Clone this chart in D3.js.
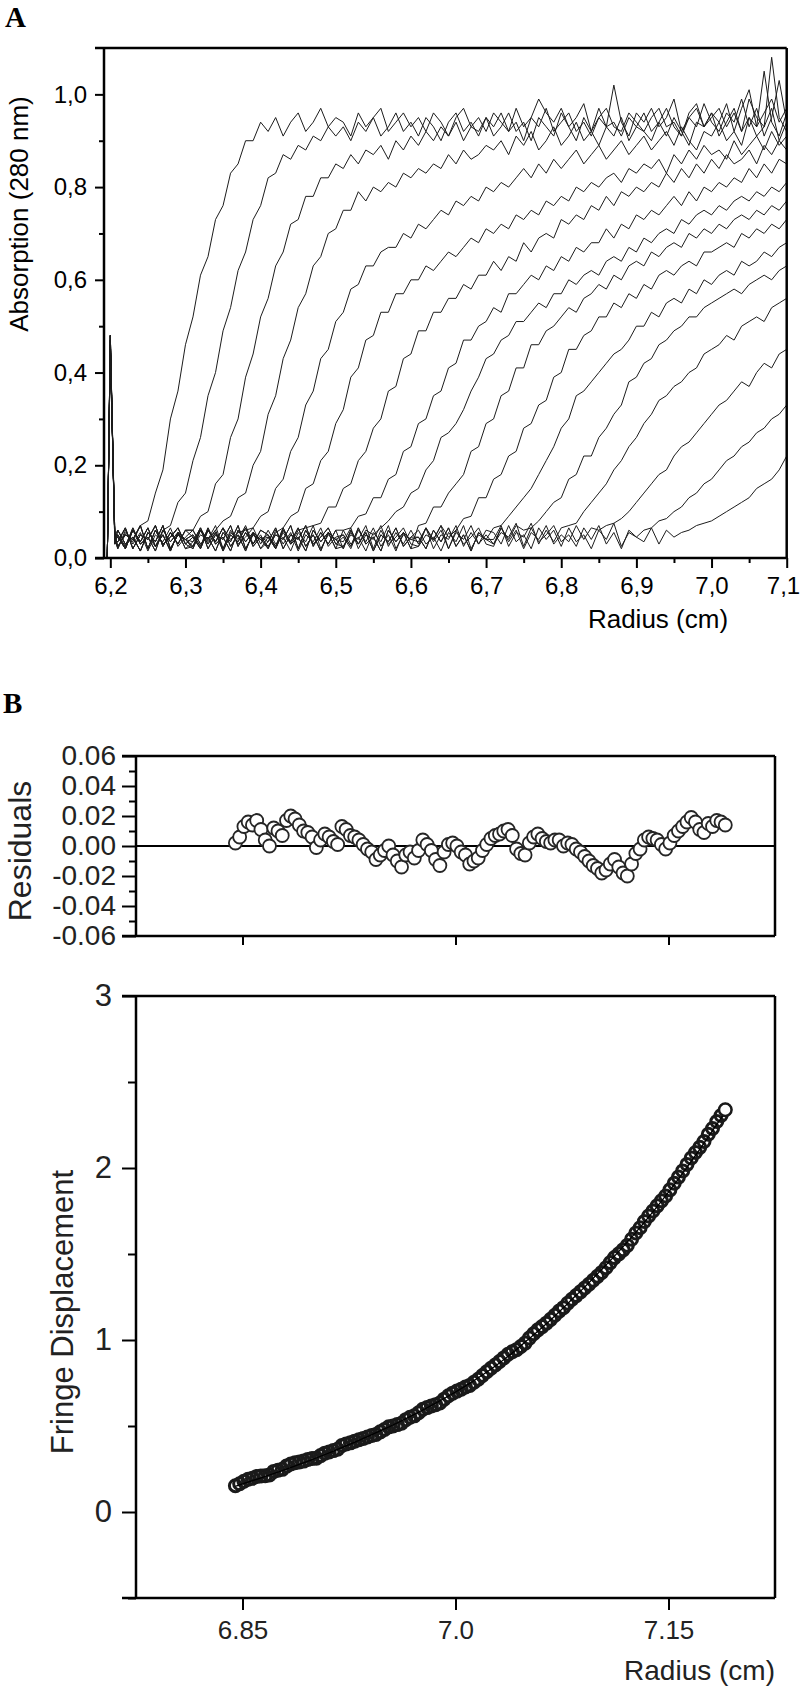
<!DOCTYPE html>
<html>
<head>
<meta charset="utf-8">
<script src="https://cdn.jsdelivr.net/npm/d3@7"></script>
<style>
body { margin: 0; background: #fff; }
svg { display: block; }
</style>
</head>
<body>
<svg id="chart" width="800" height="1691"></svg>
<script>
// ---- panel A: absorbance scans ----
const radiusA = [6.196, 6.2, 6.206,
	6.21, 6.22, 6.23, 6.24, 6.25, 6.26, 6.27, 6.28, 6.29, 6.3,
	6.31, 6.32, 6.33, 6.34, 6.35, 6.36, 6.37, 6.38, 6.39, 6.4,
	6.41, 6.42, 6.43, 6.44, 6.45, 6.46, 6.47, 6.48, 6.49, 6.5,
	6.51, 6.52, 6.53, 6.54, 6.55, 6.56, 6.57, 6.58, 6.59, 6.6,
	6.61, 6.62, 6.63, 6.64, 6.65, 6.66, 6.67, 6.68, 6.69, 6.7,
	6.71, 6.72, 6.73, 6.74, 6.75, 6.76, 6.77, 6.78, 6.79, 6.8,
	6.81, 6.82, 6.83, 6.84, 6.85, 6.86, 6.87, 6.88, 6.89, 6.9,
	6.91, 6.92, 6.93, 6.94, 6.95, 6.96, 6.97, 6.98, 6.99, 7.0,
	7.01, 7.02, 7.03, 7.04, 7.05, 7.06, 7.07, 7.08, 7.09, 7.1]

const scan01 = [0, .48, .04,
	.02, .055, .035, .07, .08, .14, .19, .30, .36, .46,
	.52, .61, .65, .73, .76, .83, .85, .90, .90, .94,
	.92, .95, .91, .94, .96, .92, .94, .97, .93, .95,
	.94, .91, .96, .93, .95, .97, .92, .94, .96, .93,
	.95, .92, .96, .94, .91, .95, .97, .93, .95, .92,
	.96, .94, .92, .97, .93, .95, .99, .96, .94, .97,
	.93, .95, .98, .92, .95, .93, 1.02, .94, .91, .96,
	.94, .97, .93, .95, .99, .92, .95, .97, .93, .96,
	.94, .98, .92, .97, 1.01, .93, .96, .99, .94, .97]
const scan02 = [0, .47, .05,
	.05, .02, .06, .03, .045, .025, .06, .07, .12, .14,
	.21, .26, .35, .40, .49, .54, .62, .66, .73, .76,
	.82, .83, .87, .86, .89, .88, .91, .90, .93, .91,
	.93, .90, .94, .92, .95, .91, .93, .96, .92, .94,
	.91, .95, .93, .90, .94, .96, .92, .94, .91, .95,
	.93, .96, .92, .94, .90, .95, .93, .97, .92, .94,
	.96, .92, .94, .91, .95, .97, .93, .92, .96, .94,
	.92, .95, .97, .93, .94, .91, .96, .98, .93, .95,
	.97, .93, .96, .92, .99, .95, .93, 1.08, .95, .92]
const scan03 = [0, .46, .04,
	.035, .065, .02, .05, .04, .07, .025, .055, .03, .06,
	.06, .09, .10, .16, .18, .26, .30, .39, .44, .52,
	.56, .63, .66, .72, .73, .78, .78, .82, .82, .85,
	.84, .87, .85, .88, .87, .89, .86, .90, .88, .91,
	.89, .92, .90, .93, .91, .94, .90, .93, .92, .95,
	.91, .93, .96, .92, .94, .90, .95, .93, .91, .96,
	.93, .90, .95, .92, .97, .93, .94, .91, .95, .93,
	.96, .92, .94, .97, .93, .91, .95, .93, .98, .94,
	.92, .96, .94, .99, .93, .97, .91, .95, 1.03, .94]
const scan04 = [0, .48, .03,
	.06, .03, .045, .015, .055, .035, .07, .02, .05, .04,
	.025, .06, .04, .06, .08, .09, .13, .14, .20, .23,
	.31, .35, .43, .47, .54, .57, .63, .65, .70, .71,
	.75, .75, .79, .77, .80, .79, .81, .80, .83, .82,
	.84, .83, .85, .84, .87, .85, .88, .86, .87, .89,
	.88, .90, .87, .91, .89, .92, .88, .90, .93, .89,
	.91, .94, .90, .92, .89, .93, .91, .95, .90, .93,
	.92, .90, .94, .91, .95, .92, .89, .94, .93, .96,
	.91, .94, .97, .92, .95, .93, 1.05, .94, .91, .96]
const scan05 = [0, .47, .04,
	.025, .05, .04, .07, .02, .06, .03, .045, .065, .03,
	.045, .02, .06, .035, .065, .04, .055, .06, .065, .09,
	.10, .15, .17, .23, .26, .33, .36, .43, .45, .51,
	.53, .58, .59, .63, .63, .66, .67, .67, .70, .69,
	.72, .71, .73, .75, .74, .77, .76, .78, .77, .80,
	.79, .81, .80, .82, .84, .82, .85, .83, .86, .84,
	.86, .88, .85, .87, .89, .86, .88, .90, .87, .89,
	.91, .88, .90, .92, .89, .93, .90, .88, .92, .91,
	.94, .90, .92, .89, .95, .91, .93, .97, .90, .94]
const scan06 = [0, .46, .05,
	.045, .02, .06, .035, .065, .025, .05, .015, .055, .04,
	.025, .065, .035, .06, .02, .055, .04, .07, .03, .05,
	.02, .055, .065, .09, .10, .15, .16, .21, .23, .29,
	.32, .39, .41, .47, .48, .53, .53, .57, .57, .60,
	.60, .63, .62, .64, .66, .65, .67, .69, .68, .71,
	.70, .72, .71, .74, .73, .75, .74, .77, .76, .78,
	.77, .80, .79, .81, .80, .82, .83, .81, .84, .83,
	.85, .84, .86, .83, .87, .85, .88, .86, .89, .87,
	.88, .86, .90, .87, .89, .91, .88, .92, .89, .91]
const scan07 = [0, .47, .04,
	.05, .025, .065, .03, .045, .015, .06, .035, .055, .02,
	.035, .065, .02, .05, .04, .07, .025, .055, .03, .06,
	.05, .02, .055, .03, .06, .065, .07, .075, .11, .11,
	.15, .16, .21, .23, .28, .30, .36, .37, .43, .44,
	.49, .49, .53, .53, .56, .56, .59, .58, .61, .61,
	.64, .62, .65, .64, .68, .66, .69, .70, .69, .73,
	.72, .74, .73, .76, .75, .78, .76, .79, .78, .80,
	.79, .81, .80, .83, .81, .84, .82, .85, .83, .86,
	.84, .87, .85, .86, .88, .85, .89, .87, .90, .88]
const scan08 = [0, .48, .05,
	.025, .05, .04, .07, .02, .06, .03, .045, .065, .03,
	.045, .02, .06, .035, .065, .025, .05, .015, .055, .04,
	.05, .025, .065, .03, .045, .015, .06, .035, .055, .02,
	.06, .065, .09, .095, .13, .13, .17, .18, .23, .24,
	.29, .30, .35, .36, .41, .42, .47, .47, .50, .51,
	.54, .53, .57, .57, .59, .61, .60, .63, .62, .65,
	.64, .67, .66, .68, .68, .71, .69, .72, .71, .74,
	.73, .75, .74, .76, .78, .76, .79, .77, .80, .79,
	.81, .80, .82, .81, .84, .82, .85, .83, .86, .85]
const scan09 = [0, .46, .04,
	.02, .06, .03, .055, .015, .05, .035, .065, .025, .045,
	.06, .03, .045, .015, .055, .035, .07, .02, .05, .04,
	.025, .05, .04, .07, .02, .06, .03, .045, .065, .03,
	.025, .055, .03, .06, .05, .065, .08, .10, .11, .14,
	.15, .19, .21, .26, .27, .29, .32, .36, .39, .43,
	.44, .47, .48, .51, .51, .53, .55, .54, .57, .57,
	.60, .59, .61, .62, .61, .64, .65, .64, .67, .66,
	.69, .68, .70, .71, .70, .73, .72, .74, .75, .74,
	.76, .75, .77, .78, .77, .79, .78, .80, .79, .81]
const scan10 = [0, .47, .03,
	.035, .065, .02, .05, .04, .07, .025, .055, .03, .06,
	.045, .02, .06, .035, .065, .025, .05, .015, .055, .04,
	.02, .06, .03, .055, .015, .05, .035, .065, .025, .045,
	.05, .025, .065, .03, .045, .015, .06, .035, .055, .02,
	.07, .075, .11, .11, .14, .16, .18, .23, .24, .29,
	.30, .35, .36, .41, .41, .46, .46, .49, .50, .52,
	.54, .53, .56, .57, .59, .58, .61, .60, .63, .64,
	.63, .66, .65, .67, .68, .67, .70, .69, .71, .70,
	.72, .71, .73, .74, .73, .75, .74, .76, .75, .77]
const scan11 = [0, .48, .04,
	.06, .03, .045, .015, .055, .035, .07, .02, .05, .04,
	.05, .025, .065, .03, .045, .015, .06, .035, .055, .02,
	.045, .02, .06, .035, .065, .025, .05, .015, .055, .04,
	.035, .065, .02, .05, .04, .07, .025, .055, .03, .06,
	.03, .065, .04, .07, .045, .06, .085, .09, .13, .13,
	.17, .18, .22, .23, .28, .29, .33, .34, .39, .40,
	.45, .45, .48, .49, .52, .52, .55, .54, .57, .56,
	.59, .58, .61, .62, .61, .63, .64, .63, .66, .66,
	.67, .68, .67, .70, .69, .71, .70, .72, .71, .73]
const scan12 = [0, .46, .05,
	.025, .05, .04, .07, .02, .06, .03, .045, .065, .03,
	.02, .06, .03, .055, .015, .05, .035, .065, .025, .045,
	.035, .065, .02, .05, .04, .07, .025, .055, .03, .06,
	.06, .03, .045, .015, .055, .035, .07, .02, .05, .04,
	.045, .02, .06, .035, .065, .025, .05, .015, .055, .04,
	.065, .07, .09, .11, .13, .15, .18, .21, .24, .28,
	.30, .35, .36, .38, .40, .42, .44, .45, .47, .50,
	.50, .53, .52, .55, .56, .55, .58, .57, .60, .59,
	.61, .62, .61, .64, .63, .64, .66, .65, .67, .68]
const scan13 = [0, .47, .04,
	.045, .02, .06, .035, .065, .025, .05, .015, .055, .04,
	.035, .065, .02, .05, .04, .07, .025, .055, .03, .06,
	.05, .025, .065, .03, .045, .015, .06, .035, .055, .02,
	.025, .05, .04, .07, .02, .06, .03, .045, .065, .03,
	.025, .065, .035, .06, .02, .055, .04, .07, .03, .05,
	.03, .065, .04, .07, .06, .065, .08, .10, .12, .13,
	.17, .18, .22, .22, .26, .28, .31, .33, .38, .39,
	.42, .43, .46, .47, .49, .50, .52, .52, .54, .55,
	.56, .57, .58, .57, .59, .60, .61, .60, .62, .63]
const scan14 = [0, .48, .03,
	.05, .025, .065, .03, .045, .015, .06, .035, .055, .02,
	.025, .05, .04, .07, .02, .06, .03, .045, .065, .03,
	.06, .03, .045, .015, .055, .035, .07, .02, .05, .04,
	.02, .06, .03, .055, .015, .05, .035, .065, .025, .045,
	.045, .02, .06, .035, .065, .025, .05, .015, .055, .04,
	.04, .07, .025, .055, .045, .075, .03, .06, .035, .065,
	.07, .075, .10, .12, .14, .16, .19, .21, .24, .26,
	.29, .31, .34, .35, .37, .38, .40, .41, .44, .45,
	.46, .48, .47, .50, .51, .52, .51, .54, .55, .56]
const scan15 = [0, .47, .04,
	.035, .065, .02, .05, .04, .07, .025, .055, .03, .06,
	.06, .03, .045, .015, .055, .035, .07, .02, .05, .04,
	.045, .02, .06, .035, .065, .025, .05, .015, .055, .04,
	.05, .025, .065, .03, .045, .015, .06, .035, .055, .02,
	.025, .05, .04, .07, .02, .06, .03, .045, .065, .03,
	.025, .065, .035, .06, .02, .055, .04, .07, .03, .05,
	.035, .07, .04, .065, .06, .07, .075, .085, .10, .12,
	.14, .16, .18, .19, .22, .24, .25, .27, .29, .31,
	.33, .34, .36, .38, .37, .40, .42, .41, .44, .45]
const scan16 = [0, .46, .05,
	.06, .03, .045, .015, .055, .035, .07, .02, .05, .04,
	.02, .06, .03, .055, .015, .05, .035, .065, .025, .045,
	.025, .05, .04, .07, .02, .06, .03, .045, .065, .03,
	.045, .02, .06, .035, .065, .025, .05, .015, .055, .04,
	.035, .065, .02, .05, .04, .07, .025, .055, .03, .06,
	.055, .03, .07, .035, .05, .02, .065, .04, .06, .025,
	.065, .035, .05, .02, .06, .04, .075, .025, .055, .045,
	.06, .065, .08, .085, .10, .11, .13, .14, .16, .17,
	.19, .21, .22, .24, .25, .27, .28, .30, .31, .33]
const scan17 = [0, .48, .04,
	.045, .02, .06, .035, .065, .025, .05, .015, .055, .04,
	.05, .025, .065, .03, .045, .015, .06, .035, .055, .02,
	.035, .065, .02, .05, .04, .07, .025, .055, .03, .06,
	.02, .06, .03, .055, .015, .05, .035, .065, .025, .045,
	.06, .03, .045, .015, .055, .035, .07, .02, .05, .04,
	.03, .055, .045, .075, .025, .065, .035, .05, .07, .035,
	.05, .025, .065, .04, .07, .03, .055, .02, .06, .045,
	.035, .065, .03, .06, .045, .055, .06, .07, .075, .08,
	.09, .10, .11, .12, .13, .15, .16, .17, .19, .22]
const scansA = [scan01, scan02, scan03, scan04, scan05, scan06, scan07, scan08, scan09,
	scan10, scan11, scan12, scan13, scan14, scan15, scan16, scan17]

const radiusTicksA = [6.2, 6.3, 6.4, 6.5, 6.6, 6.7, 6.8, 6.9, 7.0, 7.1]
const radiusMinorA = [6.25, 6.35, 6.45, 6.55, 6.65, 6.75, 6.85, 6.95, 7.05]
const absTicks = [0, 0.2, 0.4, 0.6, 0.8, 1.0]
const absMinor = [0.1, 0.3, 0.5, 0.7, 0.9]

// ---- panel B: interference data, fit and residuals ----
const fringeRadius = [
	6.845, 6.848, 6.851, 6.854, 6.857, 6.86, 6.863, 6.866, 6.869, 6.872,
	6.875, 6.878, 6.881, 6.884, 6.887, 6.89, 6.893, 6.896, 6.899, 6.902,
	6.905, 6.908, 6.911, 6.914, 6.917, 6.92, 6.923, 6.926, 6.929, 6.932,
	6.935, 6.938, 6.941, 6.944, 6.947, 6.95, 6.953, 6.956, 6.959, 6.962,
	6.965, 6.968, 6.971, 6.974, 6.977, 6.98, 6.983, 6.986, 6.989, 6.992,
	6.995, 6.998, 7.001, 7.004, 7.007, 7.01, 7.013, 7.016, 7.019, 7.022,
	7.025, 7.028, 7.031, 7.034, 7.037, 7.04, 7.043, 7.046, 7.049, 7.052,
	7.055, 7.058, 7.061, 7.064, 7.067, 7.07, 7.073, 7.076, 7.079, 7.082,
	7.085, 7.088, 7.091, 7.094, 7.097, 7.1, 7.103, 7.106, 7.109, 7.112,
	7.115, 7.118, 7.121, 7.124, 7.127, 7.13, 7.133, 7.136, 7.139, 7.142,
	7.145, 7.148, 7.151, 7.154, 7.157, 7.16, 7.163, 7.166, 7.169, 7.172,
	7.175, 7.178, 7.181, 7.184, 7.187, 7.19]
const fringeValues = [
	.153, .164, .179, .190, .196, .207, .209, .211, .215, .236,
	.243, .248, .267, .279, .286, .291, .296, .305, .311, .313,
	.328, .342, .349, .357, .365, .387, .396, .402, .412, .420,
	.428, .436, .445, .451, .466, .480, .495, .500, .508, .516,
	.537, .551, .559, .577, .597, .607, .617, .624, .634, .656,
	.676, .691, .703, .714, .727, .736, .754, .772, .794, .815,
	.836, .855, .875, .896, .917, .932, .944, .962, .982, 1.011,
	1.036, 1.059, 1.078, 1.098, 1.120, 1.144, 1.168, 1.188, 1.214, 1.237,
	1.258, 1.280, 1.302, 1.324, 1.347, 1.370, 1.393, 1.420, 1.450, 1.479,
	1.501, 1.524, 1.550, 1.586, 1.622, 1.653, 1.689, 1.721, 1.750, 1.780,
	1.809, 1.837, 1.873, 1.911, 1.947, 1.983, 2.021, 2.058, 2.090, 2.120,
	2.154, 2.196, 2.230, 2.270, 2.305, 2.339]
const residualValues = [
	.002, .006, .013, .016, .014, .017, .011, .004, .000, .012,
	.010, .007, .017, .020, .018, .014, .010, .009, .006, -.001,
	.004, .008, .006, .003, .001, .013, .011, .007, .006, .004,
	.001, -.002, -.004, -.009, -.006, -.003, .000, -.006, -.010, -.014,
	-.006, -.004, -.008, -.003, .004, .001, -.003, -.009, -.013, -.004,
	.001, .002, .000, -.004, -.006, -.012, -.010, -.008, -.003, .001,
	.005, .007, .008, .010, .011, .007, -.002, -.005, -.006, .002,
	.006, .008, .005, .003, .002, .004, .004, .000, .002, .001,
	-.002, -.004, -.007, -.010, -.013, -.015, -.018, -.016, -.012, -.009,
	-.014, -.018, -.020, -.012, -.005, -.002, .004, .006, .005, .004,
	.001, -.002, .002, .007, .010, .013, .016, .019, .016, .011,
	.009, .015, .013, .017, .016, .014]
const fitRadius = [6.845, 6.85, 6.86, 6.87, 6.88, 6.89, 6.9, 6.91, 6.92, 6.93, 6.94, 6.95,
	6.96, 6.97, 6.98, 6.99, 7.0, 7.01, 7.02, 7.03, 7.04, 7.05, 7.06, 7.07, 7.08,
	7.09, 7.1, 7.11, 7.12, 7.13, 7.14, 7.15, 7.16, 7.17, 7.18, 7.19]
const fitValues = [.150, .163, .19, .218, .247, .277, .308, .34, .374, .409, .445, .483,
	.522, .563, .606, .651, .698, .748, .802, .86, .925, .995, 1.065, 1.14, 1.22,
	1.30, 1.385, 1.47, 1.56, 1.655, 1.755, 1.86, 1.97, 2.085, 2.205, 2.325]

const radiusTicksB = [6.85, 7.0, 7.15]
const radiusLabelsB = ["6.85", "7.0", "7.15"]
const residTicks = [-0.06, -0.04, -0.02, 0, 0.02, 0.04, 0.06]
const residMinor = [-0.05, -0.03, -0.01, 0.01, 0.03, 0.05]
const fringeTicks = [0, 1, 2, 3]
const fringeMinor = [-0.5, 0.5, 1.5, 2.5]

const svg = d3.select("#chart")
const sans = "'Liberation Sans', Arial, Helvetica, sans-serif"
const serif = "'Liberation Serif', 'Times New Roman', serif"

function styleAxis(g, size, color) {
	g.select(".domain").remove()
	g.attr("font-family", sans).attr("font-size", size)
	g.selectAll("line").attr("stroke", "#000").attr("stroke-width", 2)
	g.selectAll("text").attr("fill", color)
}

function frame(x0, x1, y0, y1, ext, width) {
	const f = svg.append("g").attr("stroke", "#000").attr("stroke-width", width)
	f.append("line").attr("x1", x0 - ext).attr("x2", x1).attr("y1", y0).attr("y2", y0)
	f.append("line").attr("x1", x0 - ext).attr("x2", x1).attr("y1", y1).attr("y2", y1)
	f.append("line").attr("x1", x0).attr("x2", x0).attr("y1", y0).attr("y2", y1)
	f.append("line").attr("x1", x1).attr("x2", x1).attr("y1", y0).attr("y2", y1)
}

// ---------- A ----------
const xA = d3.scaleLinear().domain([6.1916, 7.1]).range([104, 786.7])
const yA = d3.scaleLinear().domain([0, 1.1]).range([558, 48])
const commaFmt = d => d3.format(".1f")(d).replace(".", ",")

const lineA = d3.line().x((d, i) => xA(radiusA[i])).y(d => yA(d))
svg.append("g")
	.selectAll("path")
	.data(scansA)
	.join("path")
	.attr("d", lineA)
	.attr("fill", "none")
	.attr("stroke", "#1c1c1c")
	.attr("stroke-width", 1)
	.attr("stroke-linejoin", "round")

svg.append("g").attr("transform", "translate(0,558)")
	.call(d3.axisBottom(xA).tickValues(radiusTicksA).tickSize(10).tickPadding(9).tickFormat(commaFmt))
	.call(g => styleAxis(g, 24, "#000"))
	.call(g => g.select(".tick:last-of-type text").attr("text-anchor", "end").attr("x", 13))
svg.append("g").attr("transform", "translate(0,558)")
	.call(d3.axisBottom(xA).tickValues(radiusMinorA).tickSize(5).tickFormat(""))
	.call(g => styleAxis(g, 24, "#000"))
svg.append("g").attr("transform", "translate(104,0)")
	.call(d3.axisLeft(yA).tickValues(absTicks).tickSize(9).tickPadding(8).tickFormat(commaFmt))
	.call(g => styleAxis(g, 24, "#000"))
svg.append("g").attr("transform", "translate(104,0)")
	.call(d3.axisLeft(yA).tickValues(absMinor).tickSize(5).tickFormat(""))
	.call(g => styleAxis(g, 24, "#000"))
frame(104, 786.7, 48, 558, 9, 2.5)

svg.append("text").attr("x", 658).attr("y", 628).attr("text-anchor", "middle")
	.attr("font-family", sans).attr("font-size", 26).text("Radius (cm)")
svg.append("text").attr("transform", "translate(28,214) rotate(-90)").attr("text-anchor", "middle")
	.attr("font-family", sans).attr("font-size", 26).text("Absorption (280 nm)")
svg.append("text").attr("x", 5).attr("y", 27).attr("font-family", serif)
	.attr("font-weight", "bold").attr("font-size", 29).text("A")

// ---------- B: residuals ----------
const xB = d3.scaleLinear().domain([6.775, 7.225]).range([136, 775])
const yR = d3.scaleLinear().domain([-0.06, 0.06]).range([936, 756])

svg.append("line").attr("x1", 136).attr("x2", 775).attr("y1", yR(0)).attr("y2", yR(0))
	.attr("stroke", "#000").attr("stroke-width", 2)
svg.append("g")
	.selectAll("circle")
	.data(residualValues)
	.join("circle")
	.attr("cx", (d, i) => xB(fringeRadius[i]))
	.attr("cy", d => yR(d))
	.attr("r", 6.5)
	.attr("fill", "#fff")
	.attr("stroke", "#262626")
	.attr("stroke-width", 1.8)

svg.append("g").attr("transform", "translate(136,0)")
	.call(d3.axisLeft(yR).tickValues(residTicks).tickSize(14).tickPadding(6).tickFormat(d => d.toFixed(2)))
	.call(g => styleAxis(g, 28, "#222"))
svg.append("g").attr("transform", "translate(136,0)")
	.call(d3.axisLeft(yR).tickValues(residMinor).tickSize(7).tickFormat(""))
	.call(g => styleAxis(g, 28, "#222"))
svg.append("g").attr("transform", "translate(0,936)")
	.call(d3.axisBottom(xB).tickValues(radiusTicksB).tickSize(9).tickFormat(""))
	.call(g => styleAxis(g, 26, "#222"))
frame(136, 775, 756, 936, 14, 2.5)

svg.append("text").attr("transform", "translate(31,851) rotate(-90)").attr("text-anchor", "middle")
	.attr("font-family", sans).attr("font-size", 32).attr("fill", "#222").text("Residuals")
svg.append("text").attr("x", 3).attr("y", 713).attr("font-family", serif)
	.attr("font-weight", "bold").attr("font-size", 29).text("B")

// ---------- B: fringe displacement ----------
const yF = d3.scaleLinear().domain([-0.5, 3]).range([1598, 996])

svg.append("g")
	.selectAll("circle")
	.data(fringeValues)
	.join("circle")
	.attr("cx", (d, i) => xB(fringeRadius[i]))
	.attr("cy", d => yF(d))
	.attr("r", 6)
	.attr("fill", "none")
	.attr("stroke", "#1a1a1a")
	.attr("stroke-width", 3)

const fitLine = d3.line().curve(d3.curveMonotoneX).x((d, i) => xB(fitRadius[i])).y(d => yF(d))
svg.append("path").datum(fitValues).attr("d", fitLine)
	.attr("fill", "none").attr("stroke", "#000").attr("stroke-width", 1.3)

// the last ring stays open, as in the reference
svg.append("circle")
	.attr("cx", xB(fringeRadius[fringeRadius.length - 1]))
	.attr("cy", yF(fringeValues[fringeValues.length - 1]))
	.attr("r", 6).attr("fill", "#fff").attr("stroke", "#1a1a1a").attr("stroke-width", 2)

svg.append("g").attr("transform", "translate(136,0)")
	.call(d3.axisLeft(yF).tickValues(fringeTicks).tickSize(14).tickPadding(10).tickFormat(d3.format("d")))
	.call(g => styleAxis(g, 31, "#222"))
svg.append("g").attr("transform", "translate(136,0)")
	.call(d3.axisLeft(yF).tickValues(fringeMinor).tickSize(8).tickFormat(""))
	.call(g => styleAxis(g, 31, "#222"))
svg.append("g").attr("transform", "translate(0,1598)")
	.call(d3.axisBottom(xB).tickValues(radiusTicksB).tickSize(12).tickPadding(11)
		.tickFormat((d, i) => radiusLabelsB[i]))
	.call(g => styleAxis(g, 26, "#222"))
frame(136, 775, 996, 1598, 14, 2.5)

svg.append("text").attr("x", 775).attr("y", 1680).attr("text-anchor", "end")
	.attr("font-family", sans).attr("font-size", 28).attr("fill", "#222").text("Radius (cm)")
svg.append("text").attr("transform", "translate(73,1312) rotate(-90)").attr("text-anchor", "middle")
	.attr("font-family", sans).attr("font-size", 31).attr("fill", "#222").text("Fringe Displacement")
</script>
</body>
</html>
